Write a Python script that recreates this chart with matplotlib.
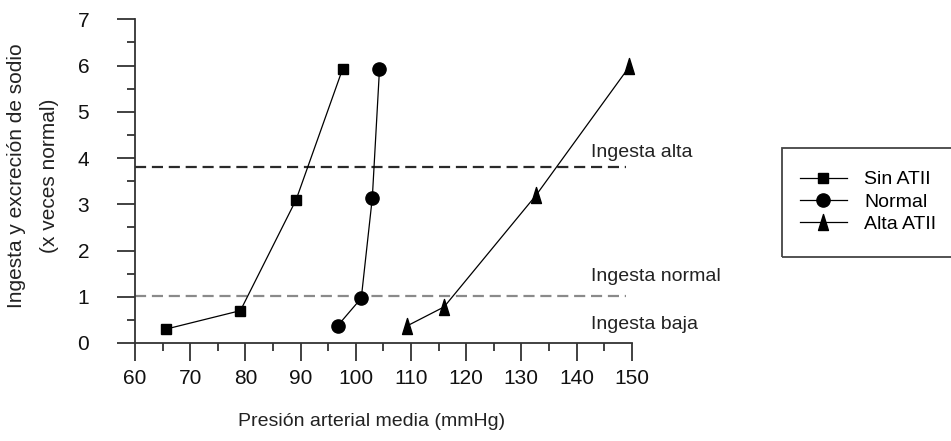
import matplotlib
matplotlib.use("Agg")
import matplotlib.pyplot as plt
from matplotlib.path import Path
from matplotlib.patches import Rectangle
from matplotlib.ticker import MultipleLocator

plt.rcParams['font.family'] = ['Liberation Sans', 'DejaVu Sans']

# Presión arterial media (mmHg) vs. ingesta/excreción de sodio (x veces normal)
sin_atii_x = [65.6, 79.1, 89.2, 97.6]
sin_atii_y = [0.30, 0.70, 3.10, 5.92]

normal_x = [96.7, 101.0, 103.0, 104.3]
normal_y = [0.37, 0.97, 3.14, 5.92]

alta_atii_x = [109.3, 116.0, 132.7, 149.6]
alta_atii_y = [0.37, 0.78, 3.20, 5.98]

series_labels = ["Sin ATII", "Normal", "Alta ATII"]

ingesta_alta = 3.8
ingesta_normal = 1.02
ingesta_labels = ["Ingesta alta", "Ingesta normal", "Ingesta baja"]
ingesta_label_y = [4.13, 1.43, 0.39]

x_ticks = list(range(60, 151, 10))
y_ticks = list(range(0, 8))

# narrow upward triangle marker
tri = Path([(0, 1.0), (-0.62, -1.0), (0.62, -1.0), (0, 1.0)],
           [Path.MOVETO, Path.LINETO, Path.LINETO, Path.CLOSEPOLY])

fig = plt.figure(figsize=(9.51, 4.41), dpi=100)
ax = fig.add_axes([135 / 951, 1 - 343 / 441, (631.7 - 135) / 951, (343 - 19.3) / 441])

ax.set_xlim(60, 150)
ax.set_ylim(0, 7)

# reference intake levels
ax.plot([60, 149], [ingesta_alta] * 2, color='#2a2a2a', lw=1.6,
        dashes=(5, 2.6), clip_on=False, zorder=1)
ax.plot([60, 149], [ingesta_normal] * 2, color='#8a8a8a', lw=1.6,
        dashes=(5, 2.6), clip_on=False, zorder=1)

l1, = ax.plot(sin_atii_x, sin_atii_y, color='black', lw=0.9, marker='s',
              ms=7.0, mfc='black', mec='black', clip_on=False, label=series_labels[0])
l2, = ax.plot(normal_x, normal_y, color='black', lw=0.9, marker='o',
              ms=9.5, mfc='black', mec='black', clip_on=False, label=series_labels[1])
l3, = ax.plot(alta_atii_x, alta_atii_y, color='black', lw=0.9, marker=tri,
              ms=11.5, mfc='black', mec='black', clip_on=False, label=series_labels[2])

for txt, yy in zip(ingesta_labels, ingesta_label_y):
    ax.text(142.6, yy, txt, fontsize=14, color='#222222', va='center',
            ha='left', clip_on=False)

for side in ('top', 'right'):
    ax.spines[side].set_visible(False)
for side in ('left', 'bottom'):
    ax.spines[side].set_linewidth(1.3)
    ax.spines[side].set_color('#333333')

ax.set_xticks(x_ticks)
ax.set_yticks(y_ticks)
ax.xaxis.set_minor_locator(MultipleLocator(5))
ax.yaxis.set_minor_locator(MultipleLocator(0.5))
ax.tick_params(axis='both', which='major', direction='out', length=13,
               width=1.3, color='#333333', labelsize=15, labelcolor='#111111')
ax.tick_params(axis='both', which='minor', direction='out', length=6,
               width=1.3, color='#333333')
ax.tick_params(axis='x', which='major', pad=6)
ax.tick_params(axis='y', which='major', pad=20)

fig.text(372 / 951, 1 - 421 / 441, "Presión arterial media (mmHg)",
         fontsize=14, ha='center', va='center', color='#222222')
fig.text(17 / 951, 1 - 176 / 441, "Ingesta y excreción de sodio",
         fontsize=15, ha='center', va='center', rotation=90, color='#222222')
fig.text(50 / 951, 1 - 176 / 441, "(x veces normal)",
         fontsize=15, ha='center', va='center', rotation=90, color='#222222')

# legend box running to the right edge
fig.patches.append(Rectangle((782 / 951, 1 - 257 / 441), (951 - 782) / 951 + 0.01,
                             (257 - 148) / 441, transform=fig.transFigure,
                             fill=False, edgecolor='#444444', lw=1.3))
fig.legend(handles=[l1, l2, l3], loc='center left',
           bbox_to_anchor=(800 / 951, 1 - 202 / 441), frameon=False,
           fontsize=14, handlelength=2.4, handletextpad=0.9,
           labelspacing=0.25, borderpad=0, borderaxespad=0)

fig.savefig("out.png", dpi=100)
